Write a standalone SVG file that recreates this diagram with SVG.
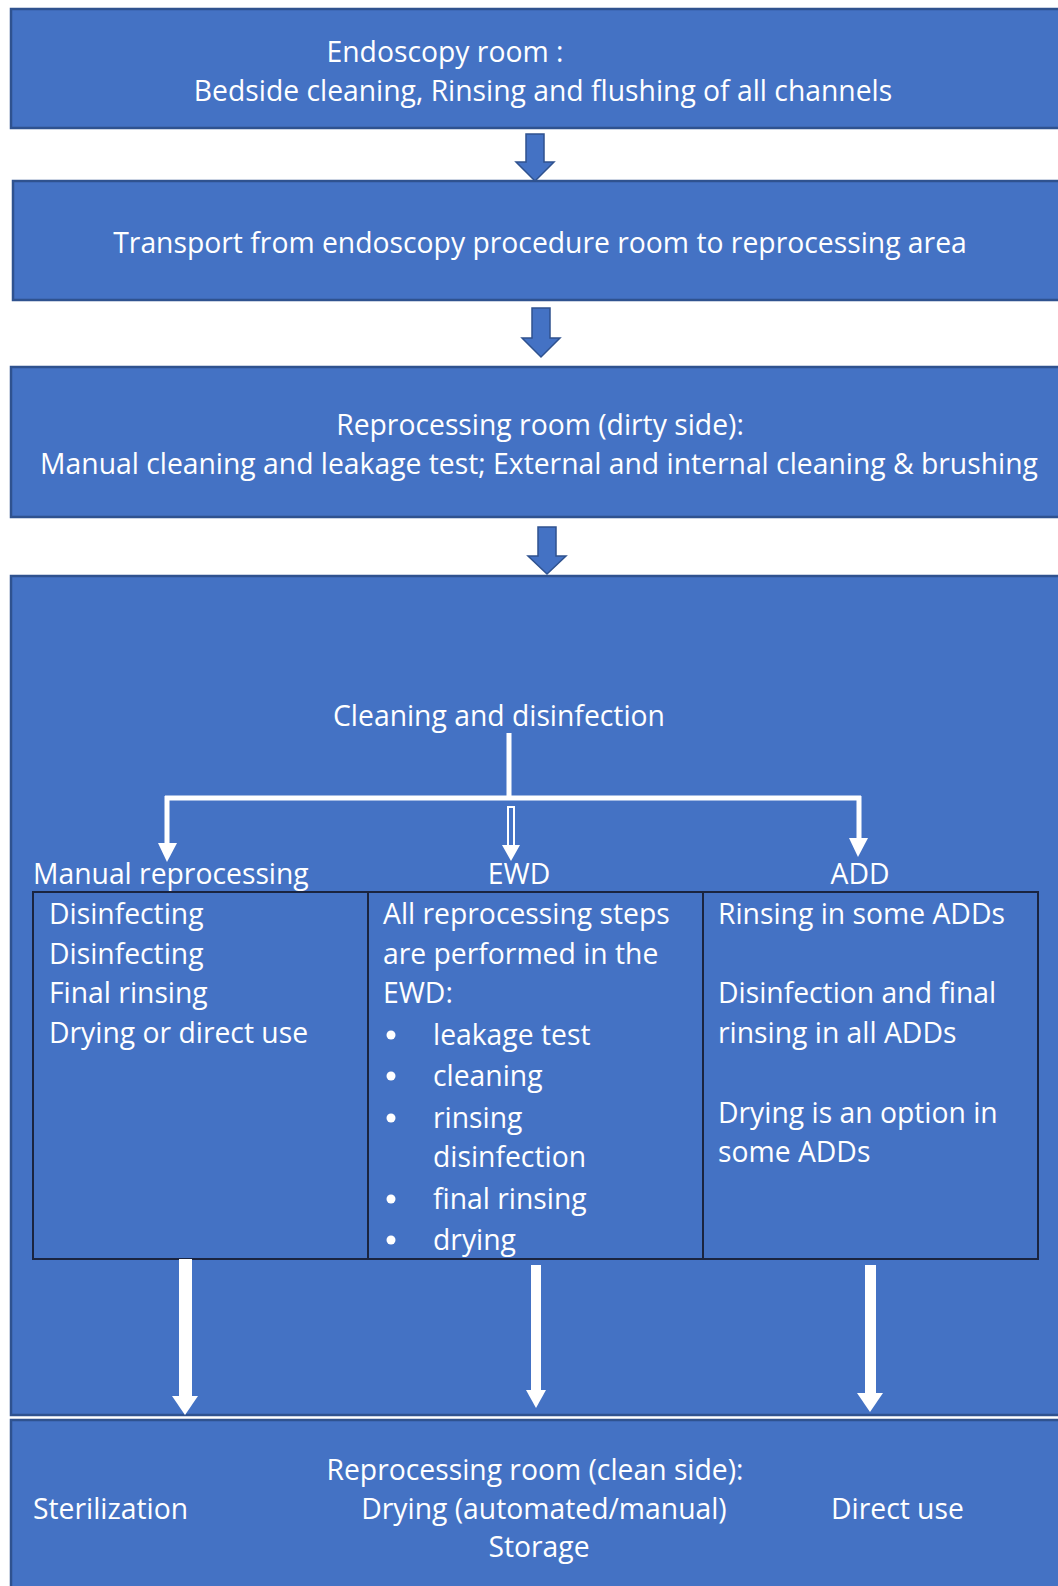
<svg xmlns="http://www.w3.org/2000/svg" width="1058" height="1586" viewBox="0 0 1058 1586">
<style>
.box{fill:#4472C4;stroke:#2F528F;stroke-width:2.5}
.t{font-family:"Open Sans","Noto Sans",sans-serif;font-size:28.3px;fill:#fff}
.m{text-anchor:middle}
.tbl{fill:none;stroke:#1A2440;stroke-width:2}
.blue{fill:#4472C4;stroke:#2F528F;stroke-width:1.5}
.wl{fill:none;stroke:#fff;stroke-width:5}
.wf{fill:#fff}
</style>
<rect width="1058" height="1586" fill="#fff"/>
<g id="endoscopy-room">
<rect class="box" x="11" y="9" width="1060" height="119"/>
<text class="t m" x="445" y="62">Endoscopy room :</text>
<text class="t m" x="543" y="101">Bedside cleaning, Rinsing and flushing of all channels</text>
</g>
<g id="transport">
<rect class="box" x="13" y="181" width="1060" height="119"/>
<text class="t m" x="540" y="253">Transport from endoscopy procedure room to reprocessing area</text>
</g>
<g id="dirty-side">
<rect class="box" x="11" y="367" width="1060" height="150"/>
<text class="t m" x="540" y="435">Reprocessing room (dirty side):</text>
<text class="t m" x="539" y="474">Manual cleaning and leakage test; External and internal cleaning &amp; brushing</text>
</g>
<g id="cleaning-disinfection">
<rect class="box" x="11" y="576" width="1060" height="839"/>
<text class="t m" x="499" y="726">Cleaning and disinfection</text>
</g>
<g id="manual-reprocessing">
<text class="t" x="33" y="884">Manual reprocessing</text>
<rect class="tbl" x="33" y="892" width="335" height="367"/>
<text class="t" x="49" y="924">Disinfecting</text>
<text class="t" x="49" y="964">Disinfecting</text>
<text class="t" x="49" y="1003">Final rinsing</text>
<text class="t" x="49" y="1043">Drying or direct use</text>
</g>
<g id="ewd">
<text class="t m" x="519" y="884">EWD</text>
<rect class="tbl" x="368" y="892" width="335" height="367"/>
<text class="t" x="383" y="924">All reprocessing steps</text>
<text class="t" x="383" y="964">are performed in the</text>
<text class="t" x="383" y="1003">EWD:</text>
<g fill="#fff">
<circle cx="391" cy="1035" r="4.5"/>
<circle cx="391" cy="1076" r="4.5"/>
<circle cx="391" cy="1118" r="4.5"/>
<circle cx="391" cy="1199" r="4.5"/>
<circle cx="391" cy="1240" r="4.5"/>
</g>
<text class="t" x="433" y="1045">leakage test</text>
<text class="t" x="433" y="1086">cleaning</text>
<text class="t" x="433" y="1128">rinsing</text>
<text class="t" x="433" y="1167">disinfection</text>
<text class="t" x="433" y="1209">final rinsing</text>
<text class="t" x="433" y="1250">drying</text>
</g>
<g id="add">
<text class="t m" x="860" y="884">ADD</text>
<rect class="tbl" x="703" y="892" width="335" height="367"/>
<text class="t" x="718" y="924">Rinsing in some ADDs</text>
<text class="t" x="718" y="1003">Disinfection and final</text>
<text class="t" x="718" y="1043">rinsing in all ADDs</text>
<text class="t" x="718" y="1123">Drying is an option in</text>
<text class="t" x="718" y="1162">some ADDs</text>
</g>
<g id="clean-side">
<rect class="box" x="11" y="1420" width="1060" height="180"/>
<text class="t m" x="535" y="1480">Reprocessing room (clean side):</text>
<text class="t" x="33" y="1519">Sterilization</text>
<text class="t m" x="544" y="1519">Drying (automated/manual)</text>
<text class="t" x="831" y="1519">Direct use</text>
<text class="t m" x="539" y="1557">Storage</text>
</g>
<g id="connectors">
<polygon class="blue" points="526,134 544,134 544,162 554,162 535,181 516,162 526,162"/>
<polygon class="blue" points="532,308 550,308 550,338 560,338 541,357 522,338 532,338"/>
<polygon class="blue" points="538,527 556,527 556,556 566,556 547,574 528,556 538,556"/>
<path class="wl" d="M509,733 V798 M165,798 H861 M167,796 V845 M859,796 V840"/>
<polygon class="wf" points="158,843 177,843 167,862"/>
<polygon class="wf" points="849,838 868,838 858,857"/>
<rect x="508" y="807" width="6" height="40" fill="none" stroke="#fff" stroke-width="2"/>
<polygon class="wf" points="502,845 520,845 511,861"/>
<rect class="wf" x="179" y="1259" width="13" height="138"/>
<polygon class="wf" points="172,1396 198,1396 185,1415"/>
<rect class="wf" x="531" y="1265" width="10" height="126"/>
<polygon class="wf" points="526,1390 546,1390 536,1408"/>
<rect class="wf" x="865" y="1265" width="11" height="129"/>
<polygon class="wf" points="857,1393 883,1393 870,1412"/>
</g>
</svg>
